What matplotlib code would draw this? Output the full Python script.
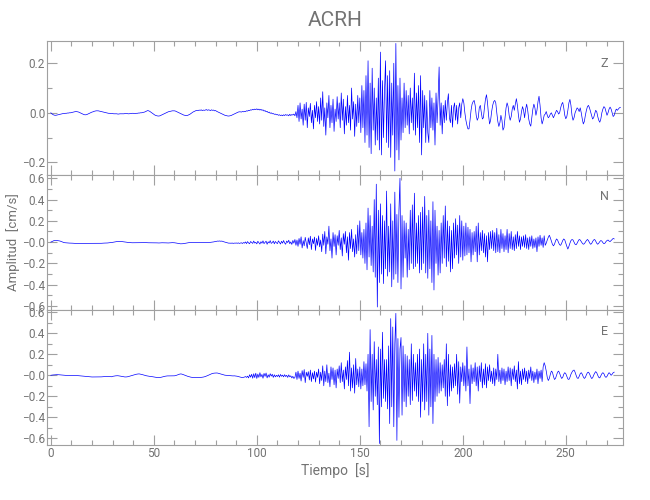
import numpy as np
import matplotlib
matplotlib.use("Agg")
import matplotlib.pyplot as plt
from matplotlib.ticker import MultipleLocator, FixedLocator

plt.rcParams['font.family'] = ['Roboto', 'DejaVu Sans']

# estacion y componentes
station = "ACRH"
comps = ["Z", "N", "E"]
dt = 0.5  # s entre muestras

# amplitudes en milesimas de cm/s, una muestra cada 0.5 s
z_amp = [
    0, -4, -7, -9, -10, -10, -9, -8, -7, -6, -5, -4, -3, -3, -2, -2, -1, -1, 0, 0,
    1, 2, 3, 4, 5, 5, 4, 3, 1, -1, -3, -5, -7, -8, -8, -7, -5, -3, -1, 1,
    3, 4, 6, 7, 8, 8, 8, 7, 6, 5, 4, 3, 2, 1, 0, -1, -2, -2, -3, -3,
    -3, -4, -4, -4, -4, -5, -5, -4, -4, -4, -4, -4, -3, -3, -3, -4, -4, -3, -3, -2,
    -2, -3, -3, -2, -2, -1, -1, 0, 0, 1, 2, 3, 5, 7, 9, 8, 6, 3, 0, -3,
    -6, -9, -11, -12, -13, -13, -12, -10, -8, -6, -4, -2, 0, 2, 4, 5, 6, 7, 8, 8,
    8, 7, 5, 3, 1, -1, -3, -5, -7, -9, -10, -11, -11, -10, -8, -6, -3, 0, 3, 5,
    7, 9, 10, 9, 11, 10, 12, 9, 11, 10, 11, 13, 10, 12, 11, 9, 12, 10, 11, 8,
    9, 6, 4, 2, 0, -2, -4, -6, -8, -10, -11, -12, -13, -13, -12, -11, -9, -7, -5, -3,
    -1, 1, 3, 4, 4, 3, 5, 4, 6, 5, 8, 7, 10, 9, 12, 11, 14, 12, 15, 13,
    16, 12, 15, 11, 14, 10, 12, 7, 9, 4, 6, 1, 3, -2, 0, -4, -3, -6, -5, -8,
    -7, -10, -8, -11, -9, -12, -8, -11, -7, -10, -8, -12, -6, -11, -7, -9, -5, -12, 5, -20,
    30, -35, 40, -25, 15, -50, 35, -30, 42, -60, 20, -15, 38, -40, 10, -65, 30, -20, 45, -35,
    25, -45, 60, -30, 85, -55, 20, -90, 40, -20, 70, -60, 30, -40, 55, -75, 15, -35, 65, -25,
    40, -60, 80, -30, 55, -85, 25, -50, 70, -40, 30, -70, 100, -25, 45, -95, 35, -55, 70, -40,
    60, -80, 110, -60, 90, -120, 150, -90, 210, -140, 120, -165, 180, -70, 100, -130, 60, -110, 140, -150,
    245, -170, 130, -100, 90, 210, -120, 150, -140, 170, -180, 120, -90, 200, -235, 280, -150, 110, -190, 140,
    -110, 60, -80, 120, -60, 90, -50, 70, -85, 100, -40, 60, -70, 160, -90, 80, -60, 110, -120, 150,
    -170, 90, -60, 70, -120, 50, -80, -120, 90, -60, 60, -70, 40, -130, 80, -40, 60, 185, -50, 40,
    -85, 30, -40, 50, -30, 40, 77, -20, -40, 30, -58, 20, 40, -30, 30, -45, 20, 40, -20, 35,
    57, 40, 0, -30, -50, -65, -65, -30, 10, 35, 45, 50, 30, -10, -30, -20, 20, 30, 0, -25,
    -20, 20, 55, 73, 40, -10, -45, -30, 5, 30, 45, 50, 40, 0, -35, -55, -40, -10, -30, -70,
    -60, -20, 20, 40, 25, -10, -30, -15, 15, 30, 10, 35, 57, 30, -10, -38, -25, 5, 25, 10,
    -20, 15, 35, 10, -25, -45, -54, -20, 15, 35, 20, -10, 10, 45, 67, 30, -20, -45, -30, -10,
    -5, 5, -10, -20, -15, -5, 0, -10, -20, -10, 0, 10, 5, -5, 0, 20, 35, 42, 20, -10,
    -24, -15, 10, 40, 54, 30, -10, -30, -20, 0, 10, 20, 15, 5, 20, 0, -25, -45, -35, -10,
    10, 25, 30, 20, 5, -10, -25, -20, -5, 10, 5, -15, -30, -38, -25, 0, 15, 25, 20, 5,
    -10, 0, 15, 23, 15, 0, -15, -10, 5, 15, 10, 15, 20, 22,
]

n_amp = [
    0, 5, 10, 14, 16, 16, 15, 14, 12, 10, 6, 2, -2, -5, -6, -7, -8, -8, -9, -9,
    -10, -10, -11, -11, -12, -12, -12, -13, -13, -13, -13, -12, -12, -12, -12, -13, -13, -12, -12, -11,
    -11, -12, -12, -13, -13, -13, -12, -12, -11, -11, -10, -10, -9, -9, -8, -8, -7, -6, -5, -4,
    -2, 0, 2, 4, 5, 6, 6, 6, 5, 5, 4, 3, 2, 0, -2, -3, -4, -5, -5, -6,
    -6, -6, -5, -5, -5, -6, -6, -5, -5, -4, -4, -4, -5, -5, -6, -6, -6, -5, -5, -5,
    -6, -6, -7, -7, -8, -8, -7, -7, -6, -6, -6, -7, -7, -8, -8, -7, -6, -6, -5, -5,
    -6, -7, -9, -11, -13, -15, -16, -16, -15, -14, -12, -10, -8, -6, -5, -4, -4, -3, -3, -3,
    -3, -2, -4, -3, -2, -3, -4, -2, -3, -2, -3, -4, -3, -2, -3, -2, -1, 0, 2, 4,
    6, 8, 10, 9, 11, 8, 10, 6, 3, 0, -3, -6, -8, -10, -9, -11, -8, -12, -9, -10,
    -8, -11, -7, -12, -9, -6, -13, -4, -10, 2, -14, 5, -8, -15, 6, -3, -12, 10, -9, -2,
    -16, 8, -5, -18, 4, -10, 12, -14, -2, 9, -20, 3, -8, 14, -12, -4, 10, -16, 6, -6,
    -14, 12, -3, -18, 8, -10, 15, -8, -20, 10, -4, 18, -15, 2, -22, 16, -10, 25, -30, 20,
    -40, 35, -20, 50, -55, 15, -35, 45, -10, -60, 40, -25, 56, -70, 30, -15, 48, -78, 35, -30,
    60, -45, 20, -90, 75, -30, 100, -110, 50, -20, 150, -80, 30, -150, 90, -40, 70, -120, 60, -30,
    110, -70, 40, -130, 80, -20, 100, -100, 50, -170, 90, -60, 120, -90, 30, -140, 70, -110, 160, -80,
    200, -120, 90, -150, 120, -200, 180, -260, 320, -140, 250, -220, 150, -280, 400, -330, 545, -610, 300, -380,
    360, -300, 250, -390, 200, -250, 480, -320, 150, -280, 360, -420, 200, -350, 470, -300, 260, -380, 300, 600,
    -440, 250, -330, 200, -150, 180, -330, 120, -260, 300, -200, 350, -250, 460, -230, 180, -200, 250, -290, 280,
    -260, 330, -200, 430, -290, 250, -340, 300, -250, 200, -380, 380, -450, 300, -200, 150, -310, 110, -290, 180,
    -200, 250, -150, 340, -230, 200, -180, 150, -280, 110, -250, 180, -150, 220, -120, 160, -200, 250, -140, 200,
    -170, 150, -130, 180, -120, 140, -100, 120, -185, 90, -120, 100, -90, 150, -185, 180, -120, 90, -80, 110,
    -100, 80, -140, 60, -185, 90, -70, 100, -60, 110, -80, 90, -100, 130, -90, 70, -100, 120, -60, 80,
    -90, 60, -70, 120, -100, 80, -60, 100, -70, 50, -80, 70, -60, 100, -40, 60, -70, 50, -40, 60,
    -50, 70, -60, 40, -70, 50, -40, 60, -60, 30, -50, 40, -90, 50, -40, 65, -30, 40, -50, 60,
    -30, -10, 20, 45, 65, 40, 10, -20, -35, -20, 10, 30, 20, -5, -25, -30, -10, 15, 30, 20,
    -10, -40, -65, -40, -10, 15, 25, 20, 0, -20, -25, -10, 10, 25, 20, 5, -10, -20, -15, 0,
    15, 25, 15, -5, -20, -15, 5, 20, 25, 10, -10, -20, -10, 5, 15, 10, -5, -15, -10, 5,
    15, 20, 10, 5, 15, 25, 35, 30,
]

e_amp = [
    0, 2, 3, 4, 5, 6, 6, 6, 5, 4, 3, 2, 1, 0, -1, -1, -2, -2, -3, -3,
    -2, -2, -1, -1, -2, -2, -3, -4, -5, -6, -7, -8, -9, -10, -11, -12, -13, -14, -15, -15,
    -16, -16, -16, -15, -15, -16, -16, -16, -15, -15, -14, -13, -12, -11, -10, -10, -11, -12, -13, -14,
    -10, -8, -6, -5, -4, -4, -5, -7, -9, -11, -13, -15, -16, -16, -15, -13, -10, -7, -4, -1,
    2, 5, 8, 10, 12, 13, 13, 11, 9, 6, 3, 0, -3, -5, -7, -8, -10, -11, -13, -14,
    -16, -18, -20, -21, -22, -22, -21, -19, -17, -14, -11, -9, -7, -6, -6, -6, -5, -5, -6, -6,
    -5, -3, 0, 4, 8, 11, 13, 12, 9, 5, 1, -3, -7, -10, -13, -16, -18, -20, -21, -22,
    -22, -22, -21, -22, -22, -21, -20, -19, -17, -15, -12, -8, -4, 0, 5, 10, 14, 18, 20, 21,
    22, 22, 21, 18, 15, 12, 9, 6, 3, 1, 0, -2, -3, -4, -5, -5, -6, -6, -5, -6,
    -7, -9, -12, -15, -18, -20, -22, -20, -17, -12, -20, -8, -25, 5, -18, 10, -28, 15, -22, 20,
    -30, 12, -20, 25, -15, 8, -28, 18, -10, 22, -25, 5, -18, 15, -8, 10, -20, 5, -15, 0,
    -12, 5, -18, 8, -10, 2, -15, 6, -12, 0, -20, 4, -15, -5, -25, -10, -30, -20, 30, -40,
    40, -30, 20, -55, 45, -20, 55, -70, 30, -10, 35, -45, 50, -60, 25, -35, 40, -65, 30, -20,
    60, -80, 30, -50, 90, -100, 40, -60, 100, -70, 20, -110, 80, -40, 70, -90, 50, -120, 60, -30,
    90, -70, 120, -60, 50, -130, 80, -40, 140, -100, 220, -150, 70, -120, 100, -170, 160, -90, 60, -110,
    80, -130, 60, -100, 130, -90, 110, -150, 200, -490, 435, -250, 200, -330, 320, -200, 150, -280, 270, -650,
    250, -300, 410, -220, 150, -250, 150, -320, 280, -460, 540, -300, 460, -490, 300, 590, -620, 350, -400, 250,
    360, -380, 280, -250, 200, -300, 185, -200, 150, -280, 300, -240, 200, -150, 120, -200, 200, -250, 250, -400,
    150, -250, 300, -330, 200, -250, 400, -380, 250, -300, 380, -460, 200, -250, 150, -200, 170, -170, 120, -150,
    100, -120, 150, -200, 300, -290, 200, -200, 100, -150, 80, -120, 110, -100, 200, -180, 130, -265, 80, -60,
    120, -100, 90, -150, 270, -100, 60, -270, 100, -80, 70, -60, 120, -100, 80, -150, 90, -60, 120, -120,
    60, -90, 110, -120, 80, -50, 100, -60, 40, -80, 70, -100, 60, -40, 200, -60, 50, -80, 70, -50,
    60, -90, 40, -60, 80, -50, 70, -100, 60, -40, 90, -60, 50, -130, 130, -80, 40, -90, 60, -40,
    70, -60, 40, -80, 50, -30, 80, -50, 40, -70, 30, -40, 60, -80, 40, -30, 50, -60, 80, 120,
    90, 40, -20, -50, -30, 10, 40, 30, -10, -40, -30, 0, 30, 40, 20, -10, -30, -20, 10, 25,
    15, -10, -35, -40, -20, 10, 30, 45, 50, 30, 0, -25, -30, -10, 15, 25, 10, -15, -30, -20,
    5, 25, 30, 15, -10, -30, -25, 0, 20, 35, 25, 0, -20, -25, -5, 15, 25, 15, -10, -20,
    -10, 10, 25, 15, 0, 10, 25, 30,
]

traces = [z_amp, n_amp, e_amp]
ylims = [(-0.251, 0.291), (-0.638, 0.631), (-0.664, 0.622)]
yticks = [[-0.2, 0.0, 0.2], [-0.6, -0.4, -0.2, 0.0, 0.2, 0.4, 0.6], [-0.6, -0.4, -0.2, 0.0, 0.2, 0.4, 0.6]]
ylabels = [["\u22120.2", "0.0", "0.2"],
           ["\u22120.6", "\u22120.4", "\u22120.2", "\u22120.0", "0.2", "0.4", "0.6"],
           ["\u22120.6", "\u22120.4", "\u22120.2", "\u22120.0", "0.2", "0.4", "0.6"]]
comp_y = [0.2, 0.43, 0.415]

line_col = "#0000ff"
axis_col = "#a0a0a0"
text_col = "#737373"

fig = plt.figure(figsize=(6.5, 5), dpi=100)
left, width = 0.0728, 0.8864
bottoms = [0.65, 0.38, 0.11]
heights = [0.2686, 0.27, 0.27]

for k in range(3):
    ax = fig.add_axes([left, bottoms[k], width, heights[k]])
    amp = np.array(traces[k]) * 0.001
    t = np.arange(len(amp)) * dt
    ax.plot(t, amp, color=line_col, lw=0.5, solid_joinstyle='round')
    ax.set_xlim(-1.7, 278)
    ax.set_ylim(*ylims[k])
    ax.xaxis.set_major_locator(MultipleLocator(50))
    ax.xaxis.set_minor_locator(MultipleLocator(10))
    ax.yaxis.set_major_locator(FixedLocator(yticks[k]))
    ax.yaxis.set_minor_locator(MultipleLocator(0.1))
    ax.set_yticklabels(ylabels[k])
    ax.tick_params(which='both', direction='in', top=True, right=True,
                   color=axis_col, labelcolor=text_col, labelsize=8.5, width=0.8)
    ax.tick_params(which='major', length=7)
    ax.tick_params(which='minor', length=3.6)
    ax.tick_params(axis='y', pad=1.5)
    ax.tick_params(axis='x', pad=1.5)
    for s in ax.spines.values():
        s.set_color(axis_col)
        s.set_linewidth(0.8)
    if k < 2:
        ax.set_xticklabels([])
    ax.text(268.6, comp_y[k], comps[k], color=text_col, fontsize=9,
            ha='center', va='center')

fig.text(335 / 650, 1 - 20 / 500, station, color=text_col, fontsize=15,
         ha='center', va='center')
fig.text(335 / 650, 1 - 471 / 500, "Tiempo  [s]", color=text_col, fontsize=10,
         ha='center', va='center')
fig.text(13 / 650, 1 - 242 / 500, "Amplitud  [cm/s]", color=text_col, fontsize=9.5,
         ha='center', va='center', rotation=90)

fig.savefig("out.png", dpi=100)
